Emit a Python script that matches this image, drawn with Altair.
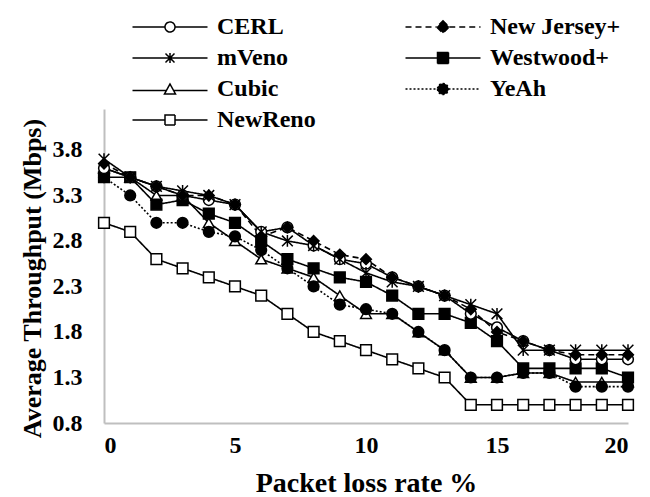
import altair as alt
import pandas as pd

loss = list(range(21))
cerl = [3.6, 3.5, 3.4, 3.3, 3.25, 3.2, 2.9, 2.95, 2.75, 2.6, 2.55, 2.4, 2.3, 2.2, 2.0, 1.85, 1.7, 1.6, 1.5, 1.5, 1.5]
new_jersey = [3.65, 3.5, 3.4, 3.3, 3.3, 3.2, 2.85, 2.95, 2.8, 2.65, 2.6, 2.4, 2.3, 2.2, 2.05, 1.8, 1.7, 1.6, 1.55, 1.55, 1.55]
mveno = [3.7, 3.5, 3.4, 3.35, 3.3, 3.2, 2.9, 2.8, 2.75, 2.6, 2.45, 2.35, 2.3, 2.2, 2.1, 2.0, 1.6, 1.6, 1.6, 1.6, 1.6]
westwood = [3.5, 3.5, 3.2, 3.25, 3.1, 3.0, 2.8, 2.6, 2.5, 2.4, 2.35, 2.2, 2.0, 2.0, 1.9, 1.7, 1.4, 1.4, 1.4, 1.4, 1.3]
cubic = [3.6, 3.5, 3.3, 3.3, 3.0, 2.8, 2.6, 2.5, 2.4, 2.2, 2.0, 2.0, 1.8, 1.6, 1.3, 1.3, 1.35, 1.35, 1.25, 1.25, 1.25]
yeah = [3.5, 3.3, 3.0, 3.0, 2.9, 2.85, 2.7, 2.5, 2.3, 2.1, 2.05, 2.0, 1.8, 1.6, 1.3, 1.3, 1.35, 1.35, 1.2, 1.2, 1.2]
newreno = [3.0, 2.9, 2.6, 2.5, 2.4, 2.3, 2.2, 2.0, 1.8, 1.7, 1.6, 1.5, 1.4, 1.3, 1.0, 1.0, 1.0, 1.0, 1.0, 1.0, 1.0]

# legend order (column-wise for a 2-column legend)
names = ["CERL", "mVeno", "Cubic", "NewReno", "New Jersey+", "Westwood+", "YeAh"]
series = {"CERL": cerl, "mVeno": mveno, "Cubic": cubic, "NewReno": newreno,
          "New Jersey+": new_jersey, "Westwood+": westwood, "YeAh": yeah}
draw_order = ["NewReno", "Cubic", "Westwood+", "YeAh", "CERL", "New Jersey+", "mVeno"]
y_ticks = [0.8, 1.3, 1.8, 2.3, 2.8, 3.3, 3.8]
x_ticks = [0, 5, 10, 15, 20]

rows = []
for n in draw_order:
    for x, v in zip(loss, series[n]):
        rows.append({"series": n, "loss": x, "thr": v})
df = pd.DataFrame(rows)

ast = "M-1,-1L1,1M-1,1L1,-1M0,-1.1L0,1.1"
plot_shapes = ["circle", ast, "triangle-up", "square", "diamond", "square", "circle"]
fills = ["white", "white", "white", "white", "black", "black", "black"]
strokes = ["black"] * 7
dashes = [[1, 0], [1, 0], [1, 0], [1, 0], [6, 4], [1, 0], [2, 2]]

L = "M-7.5,0H-1M1,0H7.5"
circ = "M-1,0A1,1 0 1,0 1,0A1,1 0 1,0 -1,0Z"
sq = "M-1,-1H1V1H-1Z"
leg_shapes = [
    L + circ,
    "M-7.5,0H7.5M-0.9,-0.9L0.9,0.9M-0.9,0.9L0.9,-0.9M0,-1L0,1",
    "M-7.5,0.3H-0.75M0.75,0.3H7.5M0,-1L1.1,1L-1.1,1Z",
    L + sq,
    "M-7.5,0H-1.25M1.25,0H7.5M0,-1.25L1.25,0L0,1.25L-1.25,0Z",
    "M-7.5,0H-1.1M1.1,0H7.5M-1.1,-1.1H1.1V1.1H-1.1Z",
    "M-7.5,0H-1.1M1.1,0H7.5M-1.1,0A1.1,1.1 0 1,0 1.1,0A1.1,1.1 0 1,0 -1.1,0Z",
]

font = "Liberation Serif"
xenc = alt.X("loss:Q", scale=alt.Scale(domain=[0, 20]),
             axis=alt.Axis(values=x_ticks, title="Packet loss rate %", grid=False, ticks=False,
                           labelPadding=10, titlePadding=12))
yenc = alt.Y("thr:Q", scale=alt.Scale(domain=[0.8, 4.25], nice=False, zero=False),
             axis=alt.Axis(values=y_ticks, format=".1f", title="Average Throughput (Mbps)",
                           grid=False, ticks=False, labelPadding=22, titlePadding=7,
                           titleY=169))

lines = alt.Chart(df).mark_line(color="black", strokeWidth=1.6).encode(
    x=xenc, y=yenc,
    detail="series:N",
    strokeDash=alt.StrokeDash("series:N", scale=alt.Scale(domain=names, range=dashes), legend=None),
)
points = alt.Chart(df).mark_point(stroke="black", strokeWidth=1.5, size=115, opacity=1).encode(
    x=xenc, y=yenc,
    shape=alt.Shape("series:N", scale=alt.Scale(domain=names, range=plot_shapes), legend=None),
    fill=alt.Fill("series:N", scale=alt.Scale(domain=names, range=fills), legend=None),
)
leg = alt.Legend(title=None, orient="none", legendX=54, legendY=-94)
legend_layer = alt.Chart(df).mark_point(strokeWidth=1.5, opacity=0).encode(
    x=xenc, y=yenc,
    shape=alt.Shape("series:N", scale=alt.Scale(domain=names, range=leg_shapes), legend=leg),
    fill=alt.Fill("series:N", scale=alt.Scale(domain=names, range=fills), legend=leg),
    stroke=alt.Stroke("series:N", scale=alt.Scale(domain=names, range=strokes), legend=leg),
    strokeDash=alt.StrokeDash("series:N", scale=alt.Scale(domain=names, range=dashes), legend=leg),
)

chart = alt.layer(lines, points, legend_layer).resolve_scale(
    shape="independent", fill="independent", strokeDash="independent", stroke="independent"
).properties(
    width=524, height=314,
    autosize=alt.AutoSizeParams(type="none"),
    padding={"left": 104, "top": 109, "right": 22, "bottom": 74},
    background="white",
).configure_view(stroke=None).configure_axis(
    domainColor="#bfbfbf", domainWidth=2,
    labelFont=font, labelFontSize=24, labelFontWeight="bold", labelColor="black",
    titleFont=font, titleFontSize=26, titleFontWeight="bold", titleColor="black",
).configure_axisX(titleFontSize=28).configure_legend(
    columns=2, columnPadding=86, rowPadding=7,
    symbolSize=100, symbolStrokeWidth=1.5, symbolOpacity=1, labelOffset=35,
    labelFont=font, labelFontSize=24, labelFontWeight="bold",
    labelColor="black", labelLimit=300,
)

chart.save("out.html", embed_options={"renderer": "svg", "actions": False})
